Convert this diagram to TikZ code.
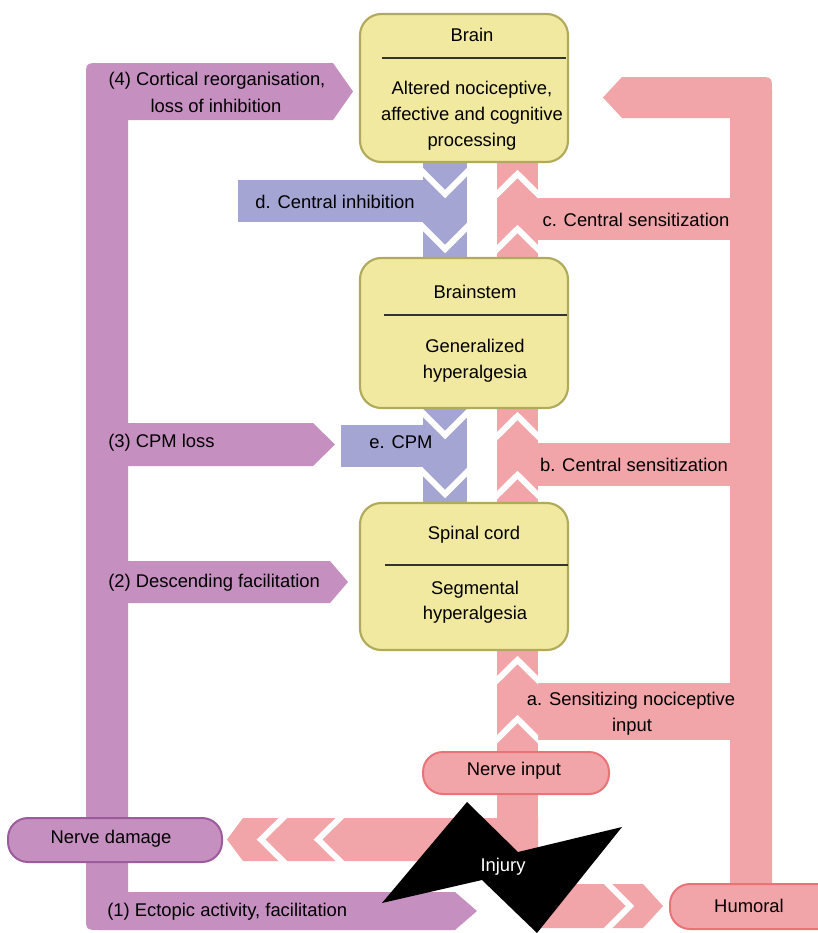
\documentclass[tikz,border=0pt]{standalone}
\usepackage{fontspec}
\setmainfont{Liberation Sans}
\definecolor{yfill}{HTML}{F2E9A0}
\definecolor{yborder}{HTML}{B0AA5C}
\definecolor{pinkc}{HTML}{F2A5A8}
\definecolor{pinkb}{HTML}{E87478}
\definecolor{bluec}{HTML}{A5A5D3}
\definecolor{purc}{HTML}{C58FC0}
\definecolor{purb}{HTML}{9C5C9C}
\begin{document}
\begin{tikzpicture}[x=0.75pt,y=-0.75pt,
  every node/.style={font=\fontsize{13.8}{20}\selectfont, inner sep=0pt},
  txt/.style={anchor=base},
  txtl/.style={anchor=base west},
  ybox/.style={draw=yborder, fill=yfill, line width=1.6pt, rounded corners=16pt, minimum width=156pt},
  pill/.style={rounded corners=15pt, line width=1.5pt},
  chev/.style={draw=white, line width=4.5pt, line cap=butt, line join=miter},
  divider/.style={draw=black!80, line width=0.8pt}
]
\useasboundingbox (0,0) rectangle (818,933);
\fill[white] (0,0) rectangle (818,933);

% purple paths
\fill[purc] (353,91.5) -- (333,63) -- (100,63) .. controls (86,63) .. (86,77) -- (86,916) .. controls (86,930) .. (100,930) -- (455,930) -- (477,911) -- (455,892) -- (128,892) -- (128,120) -- (333,120) -- cycle;
\fill[purc] (120,423) -- (313,423) -- (335,444.5) -- (313,466) -- (120,466) -- cycle;
\fill[purc] (120,561) -- (330,561) -- (348,582) -- (330,603) -- (120,603) -- cycle;

% pink paths
\fill[pinkc] (603,97.5) -- (622,77) -- (758,77) .. controls (772,77) .. (772,91) -- (772,892) -- (730,892) -- (730,118) -- (622,118) -- cycle;
\fill[pinkc] (497,160) rectangle (538,260);
\fill[pinkc] (537,198) rectangle (731,240);
\fill[pinkc] (497,405) rectangle (538,505);
\fill[pinkc] (537,443) rectangle (731,486);
\fill[pinkc] (497,648) rectangle (538,861);
\fill[pinkc] (537,683) rectangle (731,740);
\fill[pinkc] (538,818) -- (243,818) -- (227,839.5) -- (243,861) -- (538,861) -- cycle;
\fill[pinkc] (560,884) -- (643,884) -- (663,906) -- (643,928) -- (540,928) -- cycle;

% blue paths
\fill[bluec] (423,160) rectangle (467,260);
\fill[bluec] (238,180) rectangle (424,222);
\fill[bluec] (423,405) rectangle (467,505);
\fill[bluec] (341,425) rectangle (424,467);

% chevrons
\begin{scope}
\clip (423,150) rectangle (467,520);
\foreach \y in {194,249,435,494}
  \draw[chev] (410,\y-35) -- (445,\y) -- (480,\y-35);
\end{scope}
\begin{scope}
\clip (497,150) rectangle (538,760);
\foreach \y in {174,229,416,475,660,719}
  \draw[chev] (482,\y+35) -- (517.5,\y) -- (553,\y+35);
\end{scope}
\begin{scope}
\clip (200,818) rectangle (540,861);
\foreach \x in {261,318}
  \draw[chev] (\x+30,810) -- (\x,839.5) -- (\x+30,869);
\end{scope}
\begin{scope}
\clip (500,884) rectangle (670,928);
\draw[chev] (600,876) -- (630,906) -- (600,936);
\end{scope}

% yellow boxes
\node[ybox, minimum height=111pt] (brain) at (464,88) {};
\node[ybox, minimum height=112.5pt] (brainstem) at (464,333) {};
\node[ybox, minimum height=110.25pt] (spinal) at (464,576.5) {};
\draw[divider] (382,58) -- (566,58);
\draw[divider] (384,315) -- (567,315);
\draw[divider] (385,565) -- (568,565);

% pills
\node[pill, draw=purb, fill=purc, minimum width=160.5pt, minimum height=33pt] (damage) at (115,840) {};
\node[pill, draw=pinkb, fill=pinkc, minimum width=139.5pt, minimum height=31.5pt] (nerveinput) at (516,773) {};
\begin{scope}
\clip (0,0) rectangle (818,933);
\node[pill, draw=pinkb, fill=pinkc, minimum width=135pt, minimum height=33.75pt] (humoral) at (760,906.5) {};
\end{scope}

% injury
\fill[black] (467,802) -- (518,852) -- (622,827) -- (537,933) -- (482,880) -- (382,903) -- cycle;

% texts
\node[txt] (t1) at (472,41) {Brain};
\node[txt] (t2) at (472,94) {Altered nociceptive,};
\node[txt] (t3) at (472,120) {affective and cognitive};
\node[txt] (t4) at (472,146) {processing};
\node[txt] (t5) at (475,298) {Brainstem};
\node[txt] (t6) at (475,352) {Generalized};
\node[txt] (t7) at (475,378) {hyperalgesia};
\node[txt] (t8) at (474,539) {Spinal cord};
\node[txt] (t9) at (475,594) {Segmental};
\node[txt] (t10) at (475,619) {hyperalgesia};
\node[txt] (t11) at (335,208) {d. Central inhibition};
\node[txt] (t12) at (636,226) {c. Central sensitization};
\node[txt] (t13) at (634,471) {b. Central sensitization};
\node[txt] (t14) at (401,448) {e. CPM};
\node[txt] (t15) at (631,705) {a. Sensitizing nociceptive};
\node[txt] (t16) at (632,731) {input};
\node[txt] (t17) at (217,85) {(4) Cortical reorganisation,};
\node[txt] (t18) at (216,112) {loss of inhibition};
\node[txtl] (t19) at (108,447) {(3) CPM loss};
\node[txtl] (t20) at (108,587) {(2) Descending facilitation};
\node[txtl] (t21) at (107,916) {(1) Ectopic activity, facilitation};
\node[txt] (t22) at (111,843) {Nerve damage};
\node[txt] (t23) at (514,775) {Nerve input};
\node[txt] (t24) at (749,912) {Humoral};
\node[txt, text=white] (t25) at (503,871) {Injury};
\end{tikzpicture}
\end{document}
